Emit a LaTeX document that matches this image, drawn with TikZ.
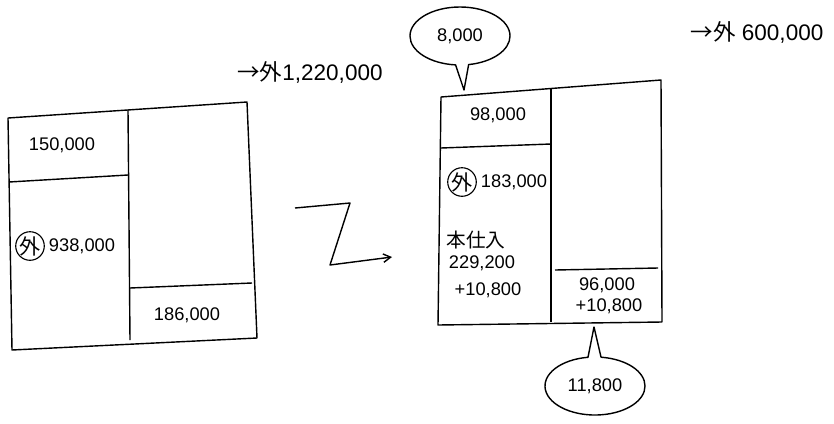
\documentclass[tikz,border=0pt]{standalone}
\usepackage{fontspec}
\setmainfont{Liberation Sans}
\newfontfamily\jp{Noto Sans CJK JP}
\usetikzlibrary{arrows.meta, positioning, shapes.callouts}

\begin{document}
\begin{tikzpicture}[
x=0.025cm, y=-0.025cm,
line width=1pt, line join=round,
node distance = 1mm and 0.5mm,
   num/.style = {font=\fontsize{13}{15}\selectfont, inner sep=1pt},
   big/.style = {font=\fontsize{16}{18}\selectfont, inner sep=1pt},
    jp/.style = {font=\jp\fontsize{14}{16}\selectfont, inner sep=1pt},
  maru/.style = {draw, circle, inner sep=0pt, line width=0.8pt,
                 font=\jp\fontsize{15}{16}\selectfont},
bubble/.style = {draw, ellipse callout, minimum width=25mm, minimum height=14.5mm,
                 font=\fontsize{13}{15}\selectfont},
     > = {Straight Barb[angle=60:3pt 3]},
]
\useasboundingbox (0,0) rectangle (834,423);

% left T-account
\coordinate (ltl) at (8,118);   \coordinate (ltr) at (247,102);
\coordinate (lbl) at (12,350);  \coordinate (lbr) at (257,338);
\draw (ltl) -- (ltr) -- (lbr) -- (lbl) -- cycle;
\draw (128,110) -- (130,340);
\draw (9,182) -- (128,175);
\draw (130,288) -- (252,283);

\node (capL)  [num] at (62,145) {150,000};
\node (maruL) [maru] at (30,246) {外};
\node (gaiL)  [num, right=of maruL] {938,000};
\node (costL) [num] at (187,315) {186,000};
\node (totL)  [big] at (310,72) {{\jp →外}1,220,000};

% Z arrow
\coordinate (z1) at (295,208);
\coordinate (z2) at (350,203);
\coordinate (z3) at (330,265);
\coordinate (z4) at (392,257);
\draw[->] (z1) -- (z2) -- (z3) -- (z4);

% right T-account
\coordinate (rtl) at (441,97);  \coordinate (rtr) at (661,80);
\coordinate (rbl) at (438,325); \coordinate (rbr) at (662,322);
\draw (rtl) -- (rtr) -- (rbr) -- (rbl) -- cycle;
\draw (551,88) -- (551,322);
\draw (441,148) -- (551,144);
\draw (555,270) -- (658,268);

\node (capR)  [num] at (498,115) {98,000};
\node (maruR) [maru] at (462,182) {外};
\node (gaiR)  [num, right=of maruR] {183,000};
\node (hon)   [jp] at (476,240) {本仕入};
\node (buy)   [num] at (482,263) {229,200};
\node (buyx)  [num] at (488,290) {+10,800};
\node (costR) [num] at (607,285) {96,000};
\node (costx) [num] at (609,306) {+10,800};
\node (totR)  [big] at (757,32) {{\jp →外} 600,000};

% bubbles
\node (bubT) [bubble, callout absolute pointer={(464,90)}] at (460,36) {8,000};
\node (bubB) [bubble, callout absolute pointer={(594,327)}] at (595,386) {11,800};
\end{tikzpicture}
\end{document}
